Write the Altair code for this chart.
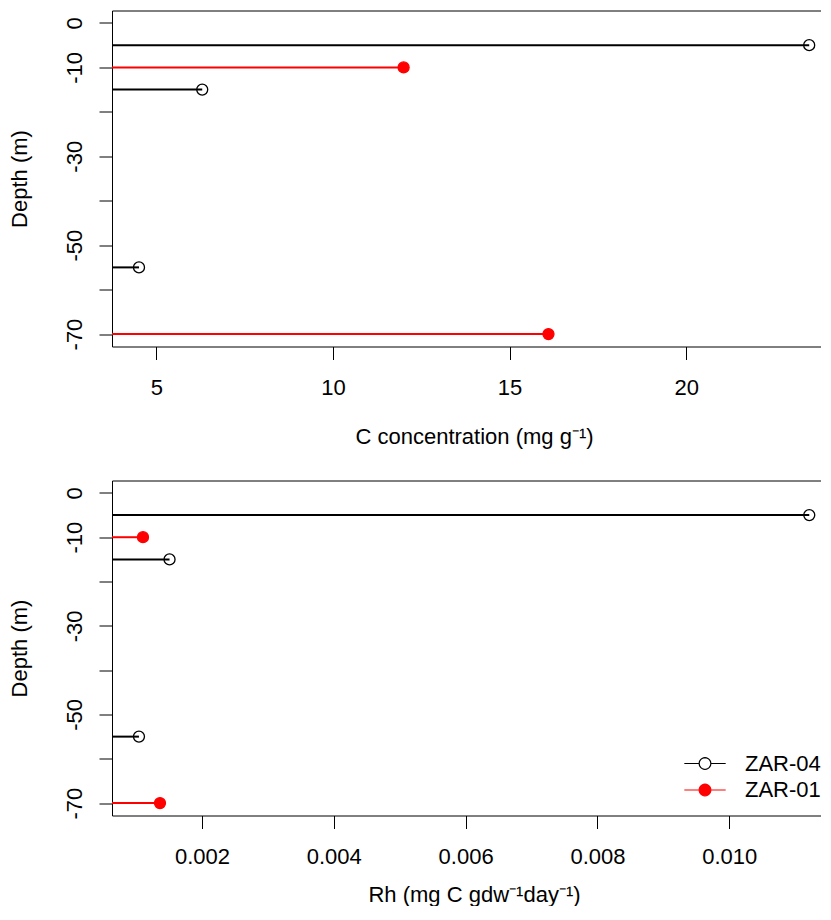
import math
import altair as alt
import pandas as pd

# ---- data ----
depth = [-5, -10, -15, -55, -70]
site = ["ZAR-04", "ZAR-01", "ZAR-04", "ZAR-04", "ZAR-01"]
c_conc = [23.48, 12.0, 6.30, 4.51, 16.10]
rh = [0.011214, 0.001105, 0.001508, 0.001044, 0.001363]

sites = ["ZAR-04", "ZAR-01"]
line_colors = ["#000000", "#FF0000"]
fill_colors = ["transparent", "#FF0000"]

y_ticks = [0, -10, -20, -30, -40, -50, -60, -70]
c_ticks = [5, 10, 15, 20]
rh_ticks = [0.002, 0.004, 0.006, 0.008, 0.010]

df = pd.DataFrame({"depth": depth, "site": site, "c": c_conc, "rh": rh})

FONT = "Liberation Sans"
W = 709

# legend glyph: line - circle - line (polygonal circle)
R = 0.53
circ = " ".join(
    f"{'M' if k == 0 else 'L'}{R * math.cos(2 * math.pi * k / 24):.3f},{R * math.sin(2 * math.pi * k / 24):.3f}"
    for k in range(24)
)
LEGEND_PATH = f"M-1.88,0L-{R},0M{R},0L1.88,0{circ}Z"


def panel(field, domain, ticks, fmt, title, height, title_y, legend):
    yscale = alt.Scale(domain=[-72.8, 2.8], nice=False, zero=False)
    yaxis = alt.Axis(
        values=y_ticks,
        labelExpr="(datum.value == -20 || datum.value == -40 || datum.value == -60) ? '' : toString(datum.value)",
        title="Depth (m)", labelAngle=270, labelAlign="center",
        labelBaseline="alphabetic", labelPadding=18, tickSize=13,
        labelOverlap=False, labelFlush=False,
        titleX=-85.7, titleY=height / 2, titleAngle=270,
        titleAlign="center", titleBaseline="alphabetic",
    )
    xscale = alt.Scale(domain=domain, nice=False, zero=False)
    xaxis = alt.Axis(
        values=ticks, format=fmt, title=title, tickSize=13,
        labelPadding=18, labelBaseline="top", labelOverlap=False,
        labelFlush=False, titleX=362, titleY=title_y,
        titleAlign="center", titleBaseline="alphabetic",
    )
    topaxis = alt.Axis(orient="top", labels=False, ticks=False,
                       domain=True, title=None, grid=False)
    stroke_scale = alt.Scale(domain=sites, range=line_colors)
    base = alt.Chart(df)
    rules = base.mark_rule(strokeWidth=2).encode(
        x=alt.X(f"{field}:Q", scale=xscale, axis=xaxis),
        x2=alt.value(0),
        y=alt.Y("depth:Q", scale=yscale, axis=yaxis),
        stroke=alt.Stroke("site:N", scale=stroke_scale, legend=legend),
    )
    points = base.mark_point(size=121, strokeWidth=1.3,
                             opacity=1, fillOpacity=1).encode(
        x=alt.X(f"{field}:Q", scale=xscale, axis=topaxis),
        y=alt.Y("depth:Q", scale=yscale, axis=yaxis),
        stroke=alt.Stroke("site:N", scale=stroke_scale, legend=legend),
        fill=alt.Fill("site:N", scale=alt.Scale(domain=sites, range=fill_colors), legend=legend),
    )
    return alt.layer(rules, points).resolve_axis(x="independent").properties(width=W, height=height)


leg = alt.Legend(
    title=None, orient="none", legendX=581, legendY=271,
    symbolType=LEGEND_PATH, symbolSize=484, symbolStrokeWidth=1.2,
    labelFontSize=22, labelFont=FONT, labelColor="black",
    labelOffset=28, rowPadding=3.5, padding=0,
)

top = panel("c", [3.746, 23.814], c_ticks, "d", "C concentration (mg g\u207b\u00b9)", 336, 97, None)
bottom = panel("rh", [0.000635, 0.011392], rh_ticks, ".3f",
               "Rh (mg C gdw\u207b\u00b9day\u207b\u00b9)", 335, 86, leg)

chart = alt.vconcat(top, bottom, spacing=134, bounds="flush").resolve_scale(
    x="independent", y="independent",
    stroke="independent", fill="independent",
).properties(
    padding={"left": 0, "top": 2.5, "right": 0, "bottom": 0}
).configure_view(stroke=None).configure_axis(
    domainColor="black", tickColor="black", labelColor="black",
    titleColor="black", labelFont=FONT, titleFont=FONT,
    labelFontSize=22, titleFontSize=22, titleFontWeight="normal",
    grid=False, domainWidth=1, tickWidth=1,
)

chart.save("out.html", embed_options={"renderer": "svg", "actions": False})
